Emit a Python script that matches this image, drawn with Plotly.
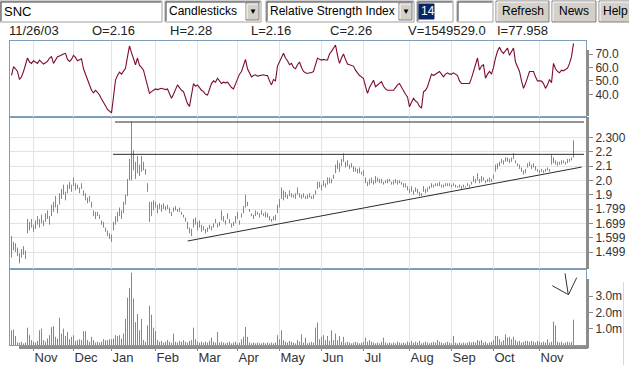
import plotly.graph_objects as go

# ---------------- data ----------------
month_labels = ["Nov", "Dec", "Jan", "Feb", "Mar", "Apr", "May", "Jun", "Jul", "Aug", "Sep", "Oct", "Nov"]
month_start_idx = [11, 31, 50, 72, 93, 113, 134, 155, 176, 199, 220, 241, 264]

rsi = [54, 60.5, 59, 57, 51, 53, 57, 62, 67, 64,
       63, 65, 64, 63, 65.5, 64, 62.5, 63.5, 64.5, 67,
       68, 63, 66, 68, 68.5, 69.5, 70, 70.5, 66, 64.5,
       66, 69, 67.5, 65, 66, 66.5, 59, 55, 52, 48,
       43, 41, 43, 41.5, 39.5, 36.5, 34.4, 31.5, 28.7, 27.5,
       26.2, 38, 50.6, 54, 56.5, 55, 57, 59.3, 68, 76,
       71, 66, 62, 67, 61.5, 60, 58, 52, 46.8, 40.7,
       42, 43, 44, 43.5, 44, 44.5, 44, 43.5, 44, 40,
       37, 40, 44, 47, 45, 43, 42, 37, 33, 31,
       40, 48, 46, 47, 45, 43, 42, 40, 39.4, 44,
       48, 50, 49, 52, 50, 48, 49, 48.5, 49, 47,
       45, 44, 48, 52, 55, 57, 61, 66, 59, 56,
       53, 54, 54.5, 53.5, 54, 54, 54.5, 54, 54, 50,
       47, 51, 50, 61, 64, 68, 70.5, 67, 65, 62,
       63, 60, 59, 62, 64, 60, 57, 56, 55.5, 56,
       56, 57, 62, 67, 66, 65.5, 66, 65.5, 65.6, 70,
       72, 74, 76.7, 69, 63, 67, 70, 66, 62.5, 62,
       61.5, 61, 58, 56, 54, 53, 51.8, 46, 40.7, 45,
       48, 50.5, 45.6, 47, 48.5, 49.4, 46, 44, 43, 43,
       43.5, 43, 45, 47, 48, 45, 42, 40, 38, 30.7,
       34, 37, 35, 34, 31, 29.7, 41.9, 43, 45.6, 50,
       55, 54, 55, 55.5, 57, 55, 53, 55, 56, 55,
       55, 56, 55, 54, 50, 48, 48, 48, 48.5, 48,
       52, 57, 62, 67, 58, 61, 62, 52, 55, 57,
       55, 60, 67, 72, 75, 72, 70.5, 73, 74.5, 69,
       72, 74.5, 64, 60, 57, 50, 44.4, 48, 52, 57,
       57, 57, 53, 50, 50, 49.8, 48, 44.4, 47, 51,
       48.6, 63, 59, 57, 56, 58, 57.5, 58.5, 59.4, 63,
       68, 77.958]

lows = [1.46, 1.51, 1.50, 1.47, 1.42, 1.46, 1.48, 1.45, 1.63, 1.65,
        1.67, 1.64, 1.66, 1.69, 1.67, 1.70, 1.68, 1.71, 1.73, 1.69,
        1.75, 1.78, 1.81, 1.77, 1.83, 1.87, 1.90, 1.86, 1.91, 1.94,
        1.92, 1.96, 1.93, 1.94, 1.91, 1.94, 1.89, 1.86, 1.84, 1.85,
        1.81, 1.75, 1.73, 1.75, 1.73, 1.69, 1.67, 1.64, 1.61, 1.59,
        1.57, 1.65, 1.69, 1.71, 1.75, 1.73, 1.77, 1.83, 1.89, 2.00,
        2.00, 2.07, 2.01, 2.05, 2.03, 2.06, 2.07, 2.04, 1.92, 1.71,
        1.75, 1.79, 1.81, 1.77, 1.80, 1.78, 1.80, 1.79, 1.80, 1.77,
        1.75, 1.78, 1.79, 1.78, 1.78, 1.76, 1.74, 1.71, 1.66, 1.63,
        1.61, 1.67, 1.69, 1.65, 1.67, 1.64, 1.65, 1.63, 1.64, 1.66,
        1.65, 1.67, 1.70, 1.67, 1.68, 1.72, 1.71, 1.69, 1.73, 1.70,
        1.67, 1.68, 1.70, 1.73, 1.69, 1.74, 1.77, 1.81, 1.82, 1.78,
        1.75, 1.73, 1.75, 1.76, 1.74, 1.76, 1.75, 1.74, 1.74, 1.72,
        1.71, 1.72, 1.72, 1.77, 1.81, 1.87, 1.86, 1.88, 1.87, 1.89,
        1.88, 1.88, 1.87, 1.90, 1.88, 1.87, 1.88, 1.87, 1.87, 1.88,
        1.87, 1.87, 1.90, 1.94, 1.95, 1.93, 1.96, 1.95, 1.97, 1.98,
        1.98, 2.01, 2.05, 2.08, 2.06, 2.10, 2.13, 2.09, 2.10, 2.08,
        2.09, 2.06, 2.06, 2.05, 2.05, 2.04, 2.03, 1.98, 1.96, 1.97,
        1.98, 1.97, 1.98, 1.99, 1.98, 1.98, 1.97, 1.98, 1.98, 1.99,
        1.97, 1.97, 1.98, 1.97, 1.98, 1.97, 1.95, 1.95, 1.93, 1.91,
        1.92, 1.90, 1.92, 1.91, 1.89, 1.89, 1.92, 1.91, 1.92, 1.94,
        1.95, 1.95, 1.96, 1.96, 1.96, 1.95, 1.95, 1.96, 1.96, 1.96,
        1.95, 1.96, 1.95, 1.95, 1.95, 1.94, 1.95, 1.95, 1.96, 1.95,
        1.97, 1.99, 1.98, 2.00, 1.98, 1.99, 2.00, 1.98, 1.99, 1.99,
        1.99, 2.01, 2.06, 2.08, 2.10, 2.12, 2.11, 2.13, 2.13, 2.12,
        2.13, 2.15, 2.12, 2.10, 2.08, 2.06, 2.04, 2.05, 2.09, 2.10,
        2.08, 2.09, 2.07, 2.06, 2.05, 2.06, 2.05, 2.06, 2.07, 2.06,
        2.11, 2.12, 2.11, 2.10, 2.11, 2.11, 2.12, 2.11, 2.12, 2.13,
        2.14, 2.16]

highs = [1.61, 1.57, 1.56, 1.53, 1.49, 1.52, 1.54, 1.51, 1.73, 1.71,
         1.73, 1.69, 1.72, 1.75, 1.73, 1.76, 1.72, 1.77, 1.79, 1.75,
         1.83, 1.85, 1.89, 1.83, 1.91, 1.94, 1.97, 1.92, 1.97, 1.99,
         1.97, 2.02, 1.98, 1.97, 1.95, 1.98, 1.93, 1.91, 1.88, 1.89,
         1.85, 1.79, 1.78, 1.78, 1.76, 1.72, 1.71, 1.67, 1.65, 1.63,
         1.62, 1.71, 1.75, 1.78, 1.81, 1.79, 1.85, 1.90, 2.01, 2.15,
         2.41, 2.21, 2.13, 2.17, 2.11, 2.17, 2.13, 2.08, 1.98, 1.85,
         1.85, 1.86, 1.85, 1.83, 1.84, 1.83, 1.84, 1.82, 1.83, 1.81,
         1.78, 1.81, 1.82, 1.80, 1.81, 1.78, 1.76, 1.74, 1.71, 1.67,
         1.66, 1.73, 1.74, 1.71, 1.72, 1.69, 1.68, 1.66, 1.67, 1.69,
         1.68, 1.70, 1.73, 1.70, 1.71, 1.79, 1.75, 1.72, 1.77, 1.73,
         1.70, 1.71, 1.75, 1.78, 1.72, 1.77, 1.82, 1.90, 1.85, 1.80,
         1.77, 1.76, 1.79, 1.78, 1.77, 1.79, 1.77, 1.78, 1.77, 1.75,
         1.73, 1.75, 1.76, 1.83, 1.87, 1.95, 1.93, 1.92, 1.90, 1.93,
         1.91, 1.90, 1.91, 1.95, 1.91, 1.90, 1.91, 1.89, 1.90, 1.91,
         1.89, 1.90, 1.93, 1.99, 1.99, 1.97, 2.00, 1.98, 2.02, 2.02,
         2.01, 2.04, 2.11, 2.14, 2.12, 2.15, 2.19, 2.13, 2.14, 2.11,
         2.12, 2.10, 2.09, 2.08, 2.09, 2.06, 2.07, 2.02, 1.99, 2.01,
         2.02, 2.00, 2.03, 2.02, 2.01, 2.01, 1.99, 2.00, 2.01, 2.01,
         1.99, 2.00, 2.01, 2.00, 2.00, 1.99, 1.98, 1.98, 1.96, 1.94,
         1.96, 1.93, 1.95, 1.94, 1.92, 1.91, 1.96, 1.94, 1.95, 1.96,
         1.98, 1.97, 1.98, 1.98, 1.99, 1.97, 1.97, 1.98, 1.98, 1.98,
         1.97, 1.98, 1.97, 1.96, 1.97, 1.96, 1.97, 1.96, 1.98, 1.97,
         1.99, 2.03, 2.01, 2.05, 2.01, 2.03, 2.02, 2.00, 2.01, 2.02,
         2.01, 2.04, 2.11, 2.12, 2.13, 2.15, 2.14, 2.16, 2.16, 2.15,
         2.16, 2.19, 2.14, 2.12, 2.11, 2.09, 2.07, 2.08, 2.12, 2.13,
         2.11, 2.12, 2.10, 2.08, 2.07, 2.08, 2.07, 2.08, 2.09, 2.08,
         2.18, 2.16, 2.14, 2.13, 2.13, 2.14, 2.14, 2.13, 2.15, 2.15,
         2.16, 2.28]

volume_m = [0.9, 0.95, 0.55, 0.15, 0.15, 0.2, 0.1, 0.15, 1.06, 0.6,
            0.3, 0.2, 0.15, 0.25, 0.9, 1.0, 0.3, 0.2, 0.4, 0.6,
            1.1, 1.15, 0.5, 0.4, 1.67, 0.7, 1.0, 0.55, 0.8, 0.35,
            0.5, 0.6, 0.25, 0.3, 0.35, 0.3, 0.85, 0.85, 0.3, 0.2,
            0.5, 0.3, 0.15, 0.2, 0.15, 0.2, 0.35, 0.3, 0.3, 0.35,
            0.35, 0.4, 0.6, 0.55, 0.6, 0.4, 0.7, 1.6, 2.9, 3.5,
            4.43, 2.85, 1.4, 1.9, 0.9, 1.6, 0.3, 0.2, 1.2, 2.4,
            1.86, 1.06, 0.85, 0.3, 0.2, 0.25, 0.15, 0.2, 0.3, 0.2,
            0.15, 0.7, 0.2, 0.15, 0.25, 0.2, 0.3, 0.2, 0.15, 0.25,
            0.3, 1.06, 0.35, 0.2, 0.15, 0.2, 0.15, 0.2, 0.15, 0.25,
            0.45, 0.2, 0.15, 0.8, 0.15, 0.2, 0.15, 0.1, 0.15, 0.2,
            0.1, 0.15, 0.2, 0.1, 0.15, 0.35, 0.5, 1.1, 0.5, 0.15,
            0.1, 0.15, 0.1, 0.15, 0.1, 0.1, 0.15, 0.1, 0.15, 0.1,
            0.15, 0.1, 0.15, 0.6, 0.35, 0.9, 0.3, 0.2, 0.15, 0.25,
            0.2, 0.15, 0.1, 0.3, 0.2, 0.65, 0.15, 0.45, 0.1, 0.15,
            0.2, 0.15, 1.06, 1.37, 0.35, 0.5, 0.6, 0.3, 0.55, 0.25,
            0.9, 0.3, 0.7, 0.3, 0.55, 0.2, 0.5, 0.15, 0.2, 0.15,
            0.1, 0.15, 0.2, 0.15, 0.1, 0.15, 0.2, 0.45, 0.2, 0.3,
            0.2, 0.15, 0.1, 0.15, 0.1, 0.2, 0.45, 0.15, 0.1, 0.15,
            0.1, 0.15, 0.1, 0.2, 0.15, 0.1, 0.15, 0.1, 0.2, 0.15,
            0.25, 0.15, 0.2, 0.15, 0.25, 0.1, 0.15, 0.2, 0.15, 0.1,
            0.15, 0.2, 0.15, 0.3, 0.2, 0.15, 0.1, 0.15, 0.2, 0.15,
            0.1, 0.55, 0.15, 0.1, 0.15, 0.1, 0.15, 0.1, 0.15, 0.2,
            0.15, 0.2, 0.15, 0.3, 0.25, 0.3, 0.15, 0.2, 0.1, 0.15,
            0.2, 0.3, 0.55, 0.55, 0.35, 0.2, 0.3, 0.65, 0.45, 0.5,
            0.35, 0.5, 0.3, 0.2, 0.25, 0.15, 0.2, 0.25, 0.25, 0.2,
            0.25, 0.2, 0.15, 0.25, 0.2, 0.15, 0.2, 0.15, 0.35, 0.15,
            0.2, 1.43, 1.2, 0.2, 0.15, 0.2, 0.1, 0.15, 0.2, 0.15,
            0.2, 1.549529]

# drawn study lines (price levels / trendline end points, in bar index & price)
resistance_levels = [2.408, 2.182]
resistance_start = [51.75, 50.75]
resistance_end = 286.25
trend_x = [88.1, 285.1]
trend_y = [1.576, 2.093]

price_ticks = [1.499, 1.599, 1.699, 1.799, 1.9, 2.0, 2.1, 2.2, 2.3]
price_ticktext = ["1.499", "1.599", "1.699", "1.799", "1.9", "2.0", "2.1", "2.2", "2.300"]
rsi_ticks = [40, 50, 60, 70]
rsi_ticktext = ["40.0", "50.0", "60.0", "70.0"]
vol_ticks = [1, 2, 3]
vol_ticktext = ["1.0m", "2.0m", "3.0m"]

info_texts = ["11/26/03", "O=2.16", "H=2.28", "L=2.16", "C=2.26", "V=1549529.0", "I=77.958"]

# ---------------- styling ----------------
W, H = 629, 365
ML, MR, MT, MB = 10, 43, 41, 20
PW, PH = W - ML - MR, H - MT - MB
BORDER = "#7f9db9"
GRID = "#e3e3e3"
BARC = "#6590b2"
RSIC = "#7d0b32"
TXT = "#333333"
FONT = "Liberation Sans, Arial, sans-serif"


def PX(x):
    return (x - ML) / PW


def PY(y):
    return (H - MB - y) / PH


idx = list(range(len(rsi)))


def segments(lo, hi):
    xs, ys = [], []
    for i, a, b in zip(idx, lo, hi):
        xs += [i, i, None]
        ys += [a, b, None]
    return xs, ys


fig = go.Figure()

vx, vy = segments([0] * len(volume_m), volume_m)
fig.add_trace(go.Scatter(x=vx, y=vy, mode="lines", line=dict(color=BARC, width=1),
                         xaxis="x", yaxis="y", hoverinfo="skip"))
px_, py_ = segments(lows, highs)
fig.add_trace(go.Scatter(x=px_, y=py_, mode="lines", line=dict(color=BARC, width=1),
                         xaxis="x2", yaxis="y2", hoverinfo="skip"))
for lvl, x0 in zip(resistance_levels, resistance_start):
    fig.add_trace(go.Scatter(x=[x0, resistance_end], y=[lvl, lvl], mode="lines",
                             line=dict(color="#2b2b2b", width=1), xaxis="x2", yaxis="y2", hoverinfo="skip"))
fig.add_trace(go.Scatter(x=trend_x, y=trend_y, mode="lines", line=dict(color="#2b2b2b", width=1),
                         xaxis="x2", yaxis="y2", hoverinfo="skip"))
fig.add_trace(go.Scatter(x=idx, y=rsi, mode="lines", line=dict(color=RSIC, width=1.1),
                         xaxis="x3", yaxis="y3", hoverinfo="skip"))

xbase = dict(range=[-0.75, 287.25], tickvals=month_start_idx, ticktext=month_labels,
             showgrid=True, gridcolor=GRID, gridwidth=1, zeroline=False, showline=True,
             linecolor=BORDER, linewidth=1, mirror=True, fixedrange=True)
ybase = dict(side="right", showline=True, linecolor=BORDER, linewidth=1, mirror=True, zeroline=False,
             ticks="outside", ticklen=6, tickcolor="#8a8a8a", tickfont=dict(family=FONT, size=12, color=TXT),
             fixedrange=True, automargin=False)

fig.update_layout(
    width=W, height=H, margin=dict(l=ML, r=MR, t=MT, b=MB, autoexpand=False),
    paper_bgcolor="white", plot_bgcolor="white", showlegend=False,
    xaxis=dict(xbase, anchor="y", ticks="outside", ticklen=5, tickcolor="#888888",
               ticklabelposition="outside right", tickfont=dict(family=FONT, size=13, color=TXT),
               automargin=False),
    xaxis2=dict(xbase, anchor="y2", matches="x", showticklabels=False, ticks=""),
    xaxis3=dict(xbase, anchor="y3", matches="x", showticklabels=False, ticks=""),
    yaxis=dict(ybase, domain=[0, 0.25], range=[0, 76 / 16.33], tickvals=vol_ticks, ticktext=vol_ticktext,
               showgrid=False, anchor="x"),
    yaxis2=dict(ybase, domain=[0.25, 0.75], range=[1.499 - 17 / 143, 1.499 + 135 / 143],
                tickvals=price_ticks, ticktext=price_ticktext, showgrid=True, gridcolor=GRID, anchor="x2"),
    yaxis3=dict(ybase, domain=[0.75, 1.0], range=[40 - 22.7 / 1.343, 70 + 13 / 1.343],
                tickvals=rsi_ticks, ticktext=rsi_ticktext, showgrid=False, anchor="x3"),
)

shapes = []
annotations = []


def rect(x0, y0, x1, y1, fill, line="#808080", lw=1):
    shapes.append(dict(type="rect", xref="paper", yref="paper", x0=PX(x0), x1=PX(x1), y0=PY(y0), y1=PY(y1),
                       fillcolor=fill, line=dict(color=line, width=lw), layer="above"))


def inset(x0, y0, x1, y1):
    # windows-style sunken text field
    rect(x0, y0, x1, y1, "white", line="#a0a0a0")
    shapes.append(dict(type="path", xref="paper", yref="paper",
                       path=f"M {PX(x0 + 1)},{PY(y1 - 1)} L {PX(x0 + 1)},{PY(y0 + 1)} L {PX(x1 - 1)},{PY(y0 + 1)}",
                       line=dict(color="#404040", width=1), layer="above"))


def button(x0, y0, x1, y1):
    rect(x0, y0, x1, y1, "#d4d0c8", line="#808080")
    shapes.append(dict(type="path", xref="paper", yref="paper",
                       path=f"M {PX(x0 + 1)},{PY(y1 - 1)} L {PX(x0 + 1)},{PY(y0 + 1)} L {PX(x1 - 1)},{PY(y0 + 1)}",
                       line=dict(color="#ffffff", width=1), layer="above"))


def text(x, y, s, size=12, color="black", anchor="left", family=FONT):
    annotations.append(dict(xref="paper", yref="paper", x=PX(x), y=PY(y), text=s, showarrow=False,
                            xanchor=anchor, yanchor="middle", font=dict(family=family, size=size, color=color),
                            borderpad=0))


# right side grey strips of the y-axis area
rect(586, 50, 589, 116, "#8c8c8c", line="#8c8c8c", lw=0)
rect(586, 117, 589, 269, "#8c8c8c", line="#8c8c8c", lw=0)
rect(586, 279, 589, 348, "#8c8c8c", line="#8c8c8c", lw=0)
# bottom scroll strip
rect(19, 346, 588, 349, "#8c8c8c", line="#8c8c8c", lw=0)
# faint frame line at far right
shapes.append(dict(type="line", xref="paper", yref="paper", x0=PX(623.5), x1=PX(623.5), y0=PY(282), y1=PY(365),
                   line=dict(color="#d8d8d8", width=1)))

# toolbar
inset(0, 1, 162, 22)
text(3, 11.5, "SNC", size=13)
inset(165, 1, 261, 22)
text(168, 11.5, "Candlesticks")
button(246, 3, 259, 20)
text(252.5, 11.5, "▼", size=8, anchor="center")
inset(266, 1, 414, 22)
text(269, 11.5, "Relative Strength Index")
button(399, 3, 412, 20)
text(405.5, 11.5, "▼", size=8, anchor="center")
inset(417, 1, 453, 22)
rect(419, 4, 434, 19, "#0a246a", line="#0a246a")
text(420, 11.5, "14", color="white")
inset(457, 1, 493, 22)
button(496, 1, 549, 22)
text(522.5, 11.5, "Refresh", anchor="center")
button(552, 1, 596, 22)
text(574, 11.5, "News", anchor="center")
button(599, 1, 640, 22)
text(602, 11.5, "Help")

# info line
info_x = [8, 91, 169, 250, 329, 407, 496]
for xx, s in zip(info_x, info_texts):
    text(xx, 31, s, size=13, color="#222222", family="Liberation Sans Narrow, Liberation Sans, Arial")

# hand-drawn check mark in volume pane
shapes.append(dict(type="path", xref="paper", yref="paper",
                   path=f"M {PX(552.3)},{PY(285.7)} L {PX(567.7)},{PY(294.3)} "
                        f"M {PX(565)},{PY(273.3)} L {PX(568.3)},{PY(295)} L {PX(576.7)},{PY(277.7)}",
                   line=dict(color="#333333", width=1), layer="above"))

fig.update_layout(shapes=shapes, annotations=annotations)
fig.write_html("out.html", config={"displayModeBar": False},
               post_script="document.body.style.margin='0';")
